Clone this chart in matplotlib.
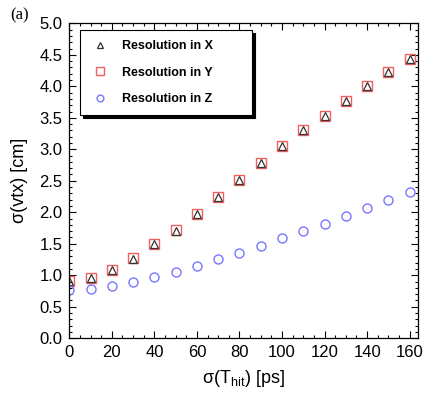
import matplotlib.pyplot as plt
from matplotlib.ticker import MultipleLocator

plt.rcParams['font.family'] = ['Liberation Sans', 'DejaVu Sans']

# --- DATA ---
sigma_t = [0, 10, 20, 30, 40, 50, 60, 70, 80, 90, 100, 110, 120, 130, 140, 150, 160]
res_x = [0.91, 0.955, 1.08, 1.26, 1.49, 1.71, 1.98, 2.25, 2.52, 2.79, 3.05, 3.30, 3.53, 3.77, 4.00, 4.22, 4.43]
res_y = [0.91, 0.96, 1.09, 1.27, 1.49, 1.72, 1.98, 2.25, 2.52, 2.79, 3.05, 3.30, 3.53, 3.77, 4.00, 4.22, 4.43]
res_z = [0.77, 0.785, 0.83, 0.89, 0.965, 1.05, 1.15, 1.25, 1.36, 1.47, 1.59, 1.70, 1.82, 1.94, 2.06, 2.19, 2.32]

fig = plt.figure(figsize=(4.25, 3.96), dpi=100)
ax = fig.add_axes([0.163, 0.146, 0.821, 0.795])

ax.plot(sigma_t, res_y, 's', ms=7, mfc='none', mec='#f06060', mew=1.0, label='Resolution in Y')
ax.plot(sigma_t, res_x, '^', ms=6, mfc='none', mec='#333333', mew=0.9, label='Resolution in X')
ax.plot(sigma_t, res_z, 'o', ms=6.5, mfc='none', mec='#7878ff', mew=1.0, label='Resolution in Z')

ax.set_xlim(0, 164)
ax.set_ylim(0, 5.0)
ax.xaxis.set_major_locator(MultipleLocator(20))
ax.xaxis.set_minor_locator(MultipleLocator(5))
ax.yaxis.set_major_locator(MultipleLocator(0.5))
ax.yaxis.set_minor_locator(MultipleLocator(0.1))
ax.yaxis.set_major_formatter(plt.FormatStrFormatter('%.1f'))
ax.tick_params(which='both', direction='in', top=True, right=True, labelsize=12, width=0.8)
ax.tick_params(which='major', length=5, pad=5)
ax.tick_params(which='minor', length=2.5)
for s in ax.spines.values():
    s.set_linewidth(0.9)

ax.set_xlabel(r'$\mathregular{\sigma(T_{hit})}$ [ps]', fontsize=13, labelpad=6)
ax.set_ylabel('σ(vtx) [cm]', fontsize=13, labelpad=8)

h, l = ax.get_legend_handles_labels()
order = [1, 0, 2]
leg = ax.legend([h[i] for i in order], [l[i] for i in order],
                loc='upper left', bbox_to_anchor=(0.03, 0.978, 0.493, 0.0), mode='expand',
                borderaxespad=0,
                prop={'weight': 'bold', 'size': 9}, markerscale=0.75,
                labelspacing=1.15, handlelength=1.6, handletextpad=1.0,
                borderpad=0.8, fancybox=False, edgecolor='black', framealpha=1,
                shadow={'color': 'black', 'alpha': 1})
leg.get_frame().set_linewidth(0.8)

fig.text(0.025, 0.95, '(a)', fontsize=12, family='Liberation Serif')

fig.savefig('out.png', dpi=100)
